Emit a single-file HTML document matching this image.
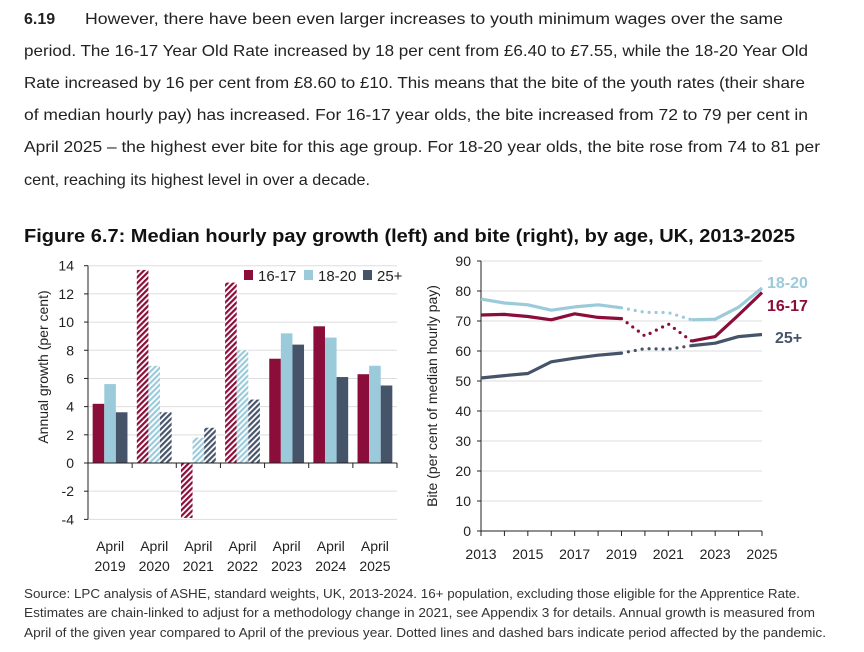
<!DOCTYPE html>
<html><head><meta charset="utf-8"><style>
body{margin:0;background:#fff;}
svg{display:block;font-family:"Liberation Sans",sans-serif;}
</style></head><body>
<svg id="s" width="864" height="652" viewBox="0 0 864 652">
<g fill="#222" font-size="16">
<text x="24" y="24" font-weight="bold">6.19</text>
<text x="85" y="24" textLength="698" lengthAdjust="spacingAndGlyphs">However, there have been even larger increases to youth minimum wages over the same</text>
<text x="24" y="56" textLength="784" lengthAdjust="spacingAndGlyphs">period. The 16-17 Year Old Rate increased by 18 per cent from £6.40 to £7.55, while the 18-20 Year Old</text>
<text x="24" y="88" textLength="781" lengthAdjust="spacingAndGlyphs">Rate increased by 16 per cent from £8.60 to £10. This means that the bite of the youth rates (their share</text>
<text x="24" y="120" textLength="784" lengthAdjust="spacingAndGlyphs">of median hourly pay) has increased. For 16-17 year olds, the bite increased from 72 to 79 per cent in</text>
<text x="24" y="152" textLength="796" lengthAdjust="spacingAndGlyphs">April 2025 – the highest ever bite for this age group. For 18-20 year olds, the bite rose from 74 to 81 per</text>
<text x="24" y="185" textLength="346" lengthAdjust="spacingAndGlyphs">cent, reaching its highest level in over a decade.</text>
</g>
<text x="24" y="242" font-size="18" font-weight="bold" fill="#111" textLength="771" lengthAdjust="spacingAndGlyphs">Figure 6.7: Median hourly pay growth (left) and bite (right), by age, UK, 2013-2025</text>
<defs>
<pattern id="h0" width="4" height="4" patternUnits="userSpaceOnUse" patternTransform="rotate(45)"><rect width="4" height="4" fill="#fff"/><rect width="2.2" height="4" fill="#8B0D3A"/></pattern>
<pattern id="h1" width="4" height="4" patternUnits="userSpaceOnUse" patternTransform="rotate(45)"><rect width="4" height="4" fill="#fff"/><rect width="2.2" height="4" fill="#9BCBDB"/></pattern>
<pattern id="h2" width="4" height="4" patternUnits="userSpaceOnUse" patternTransform="rotate(45)"><rect width="4" height="4" fill="#fff"/><rect width="2.2" height="4" fill="#46546A"/></pattern>
</defs>
<g id="left"></g>
<g id="right"></g>
<g fill="#333" font-size="13">
<text x="24" y="598" textLength="776" lengthAdjust="spacingAndGlyphs">Source: LPC analysis of ASHE, standard weights, UK, 2013-2024. 16+ population, excluding those eligible for the Apprentice Rate.</text>
<text x="24" y="617" textLength="791" lengthAdjust="spacingAndGlyphs">Estimates are chain-linked to adjust for a methodology change in 2021, see Appendix 3 for details. Annual growth is measured from</text>
<text x="24" y="637" textLength="802" lengthAdjust="spacingAndGlyphs">April of the given year compared to April of the previous year. Dotted lines and dashed bars indicate period affected by the pandemic.</text>
</g>
</svg>
<script>
const barYears=['2019','2020','2021','2022','2023','2024','2025'];
const bar1617=[4.2,13.7,-3.9,12.8,7.4,9.7,6.3];
const bar1820=[5.6,6.9,1.8,8.0,9.2,8.9,6.9];
const bar25=[3.6,3.6,2.5,4.5,8.4,6.1,5.5];
const barPandemic=[false,true,true,true,false,false,false];
const barTicks=[-4,-2,0,2,4,6,8,10,12,14];
const lineYears=[2013,2014,2015,2016,2017,2018,2019,2020,2021,2022,2023,2024,2025];
const line1617=[72,72.2,71.5,70.4,72.4,71.2,70.8,65,69,63.3,64.8,72,79.5];
const line1820=[77.3,76,75.4,73.6,74.7,75.4,74.4,72.9,72.8,70.4,70.6,74.6,81];
const line25=[51,51.8,52.5,56.4,57.6,58.6,59.3,60.8,60.6,61.8,62.6,64.8,65.5];
const lineTicks=[0,10,20,30,40,50,60,70,80,90];
const xTickYears=[2013,2015,2017,2019,2021,2023,2025];
const NS='http://www.w3.org/2000/svg';
const cols=['#8B0D3A','#9BCBDB','#46546A'];
function mk(p,t,a,txt){const e=document.createElementNS(NS,t);for(const k in a)e.setAttribute(k,a[k]);if(txt!==undefined)e.textContent=txt;p.appendChild(e);return e;}
// left chart
const L=document.getElementById('left');
const lx0=88,lx1=397,ly0=463,lpu=(463-265.7)/14;
const ly=v=>ly0-v*lpu;
const gw=(lx1-lx0)/barYears.length;
barTicks.forEach(t=>{
 if(t!==0){const g=mk(L,'line',{x1:lx0,x2:lx1,y1:ly(t),y2:ly(t),stroke:'#ddd','stroke-width':1});
 
 }
 const tx=mk(L,'text',{x:lx0-14,y:ly(t)+5,'font-size':14,'text-anchor':'end',fill:'#222'},String(t));
 
 
 mk(L,'line',{x1:lx0-4,x2:lx0,y1:ly(t),y2:ly(t),stroke:'#222'});
});
const series=[bar1617,bar1820,bar25];
const bw=11.6;
barYears.forEach((yr,i)=>{
 const gx=lx0+i*gw+(gw-3*bw)/2;
 series.forEach((s,j)=>{
  const v=s[i];const y=Math.min(ly(v),ly0);const h=Math.abs(ly(v)-ly0);
  const r=mk(L,'rect',{x:gx+j*bw,y:y,width:bw,height:h,fill:barPandemic[i]?'url(#h'+j+')':cols[j]});
  
  
 });
 const cx=lx0+i*gw+gw/2;
 const a=mk(L,'text',{x:cx,y:551,'font-size':14,'text-anchor':'middle',fill:'#222'},'April');
 
 
 const b=mk(L,'text',{x:cx,y:571,'font-size':14,'text-anchor':'middle',fill:'#222'},yr);
 
 
 mk(L,'line',{x1:lx0+(i+1)*gw,x2:lx0+(i+1)*gw,y1:ly0,y2:ly0+5,stroke:'#222'});
});
mk(L,'line',{x1:lx0,x2:lx0,y1:ly(14),y2:ly(-4),stroke:'#222'});
mk(L,'line',{x1:lx0,x2:lx1,y1:ly0,y2:ly0,stroke:'#222'});
const yt=mk(L,'text',{transform:'translate(48,367) rotate(-90)','font-size':14,'text-anchor':'middle',fill:'#222'},'Annual growth (per cent)');


const legLabels=['16-17','18-20','25+'];const legX=[244,304,363];
legLabels.forEach((l,j)=>{
 const g=mk(L,'g',{});
 
 
 mk(g,'rect',{x:legX[j],y:270,width:9,height:10,fill:cols[j]});
 mk(g,'text',{x:legX[j]+14,y:281,'font-size':15,fill:'#222'},l);
});
// right chart
const R=document.getElementById('right');
const rx0=481,rx1=762,ry0=531,rpu=(531-261)/90;
const rx=y=>rx0+(y-2013)*(rx1-rx0)/12;
const ry=v=>ry0-v*rpu;
lineTicks.forEach(t=>{
 if(t>0){const g=mk(R,'line',{x1:rx0,x2:rx1,y1:ry(t),y2:ry(t),stroke:'#ddd'});
 
 }
 mk(R,'line',{x1:rx0-4,x2:rx0,y1:ry(t),y2:ry(t),stroke:'#222'});
 const tx=mk(R,'text',{x:rx0-10,y:ry(t)+5,'font-size':14,'text-anchor':'end',fill:'#222'},String(t));
 
 
});
mk(R,'line',{x1:rx0,x2:rx0,y1:ry(90),y2:ry0,stroke:'#222'});
mk(R,'line',{x1:rx0,x2:rx1,y1:ry0,y2:ry0,stroke:'#222'});
lineYears.forEach(y=>mk(R,'line',{x1:rx(y),x2:rx(y),y1:ry0,y2:ry0+5,stroke:'#222'}));
xTickYears.forEach(y=>{
 const tx=mk(R,'text',{x:rx(y),y:559,'font-size':14,'text-anchor':'middle',fill:'#222'},String(y));
 
 
});
const yt2=mk(R,'text',{transform:'translate(437,396) rotate(-90)','font-size':14,'text-anchor':'middle',fill:'#222'},'Bite (per cent of median hourly pay)');


const lines=[line1820,line1617,line25];const lcols=[cols[1],cols[0],cols[2]];const lnames=['18-20','16-17','25plus'];
function pts(s,a,b){const o=[];for(let i=a;i<=b;i++)o.push(rx(lineYears[i])+','+ry(s[i]));return o.join(' ');}
lines.forEach((s,k)=>{
 const p1=mk(R,'polyline',{points:pts(s,0,6),fill:'none',stroke:lcols[k],'stroke-width':3.2,'stroke-linejoin':'round'});
 
 
 const p2=mk(R,'polyline',{points:pts(s,6,9),fill:'none',stroke:lcols[k],'stroke-width':3.2,'stroke-dasharray':'0 7','stroke-linecap':'round'});
 
 
 const p3=mk(R,'polyline',{points:pts(s,9,12),fill:'none',stroke:lcols[k],'stroke-width':3.2,'stroke-linejoin':'round'});
 
 
});
const labs=[['18-20',767,288,cols[1]],['16-17',767,311,cols[0]],['25+',775,343,cols[2]]];
labs.forEach(l=>{
 const t=mk(R,'text',{x:l[1],y:l[2],'font-size':16,'font-weight':'bold',fill:l[3]},l[0]);
 
 
});
</script>
</body></html>
